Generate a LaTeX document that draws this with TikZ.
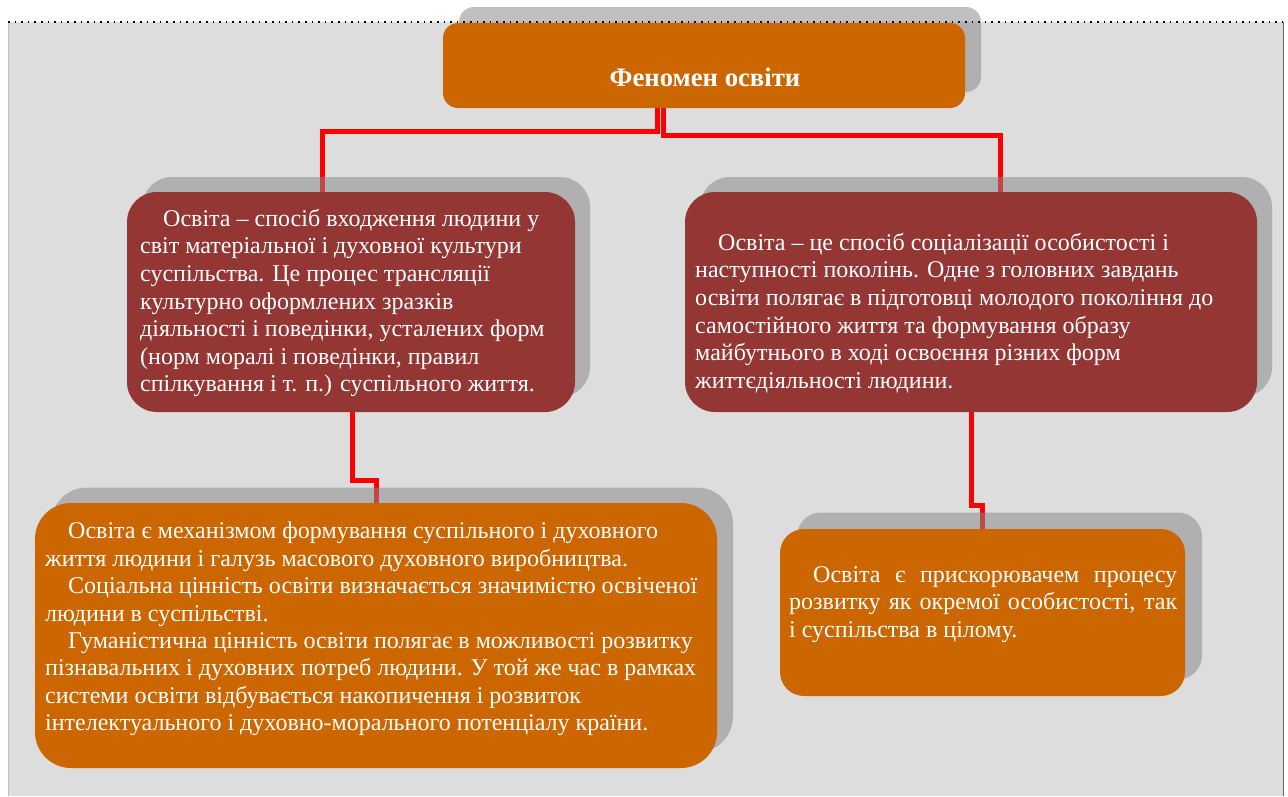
\documentclass[tikz,border=0pt]{standalone}
\usepackage{fontspec}
\setmainfont{Liberation Serif}
\definecolor{orng}{HTML}{CC6600}
\definecolor{dred}{HTML}{943634}
\definecolor{bgg}{HTML}{DDDDDD}
\definecolor{shd}{HTML}{888888}
\pgfdeclarelayer{back}
\pgfdeclarelayer{links}
\pgfdeclarelayer{shadows}
\pgfsetlayers{back,links,shadows,main}
\begin{document}
\begin{tikzpicture}[x=1pt,y=-1pt,
  box/.style={draw=none, inner sep=0pt, minimum width=#1},
  shadowbox/.style={fill=shd, fill opacity=0.53, draw=none, inner sep=0pt},
  link/.style={draw=red, line width=5pt},
  txt/.style={text=white, inner sep=0pt, anchor=north west, align=left, font=\fontsize{24}{27.6}\selectfont},
]
\useasboundingbox (0,0) rectangle (1288,796);
\begin{pgfonlayer}{back}
\fill[bgg] (8,22) rectangle (1283,796);
\draw[line width=1pt, color=black!25] (8.5,22) -- (8.5,796);
\draw[line width=1.2pt, color=black!60] (1283.5,22) -- (1283.5,796);
\end{pgfonlayer}

% boxes
\node[box=522pt, minimum height=85pt, rounded corners=15pt, fill=orng] (top) at (704,65.5) {};
\node[box=448pt, minimum height=220pt, rounded corners=30pt, fill=dred] (lm) at (351,302) {};
\node[box=572pt, minimum height=220pt, rounded corners=30pt, fill=dred] (rm) at (971,302) {};
\node[box=682pt, minimum height=265pt, rounded corners=36pt, fill=orng] (bl) at (376,635.5) {};
\node[box=405pt, minimum height=167pt, rounded corners=24pt, fill=orng] (br) at (982.5,612.5) {};

% shadows
\begin{pgfonlayer}{shadows}
\node[shadowbox, minimum width=522pt, minimum height=85pt, rounded corners=15pt] (tops) at (720,49.5) {};
\node[shadowbox, minimum width=448pt, minimum height=220pt, rounded corners=30pt] (lms) at (366,287) {};
\node[shadowbox, minimum width=572pt, minimum height=220pt, rounded corners=30pt] (rms) at (986,287) {};
\node[shadowbox, minimum width=682pt, minimum height=265pt, rounded corners=36pt] (bls) at (392,620) {};
\node[shadowbox, minimum width=405pt, minimum height=167pt, rounded corners=24pt] (brs) at (999.5,596) {};
\end{pgfonlayer}

% connectors
\begin{pgfonlayer}{links}
\draw[link] ([xshift=-47pt]top.south) -- ++(0,23) -| ([xshift=-29pt]lm.north);
\draw[link] ([xshift=-41pt]top.south) -- ++(0,27) -| ([xshift=29pt]rm.north);
\draw[link] ([xshift=1pt]lm.south) -- ++(0,68) -| (bl.north);
\draw[link] (rm.south) -- ++(0,93) -| (br.north);
\end{pgfonlayer}

% dotted top line
\draw[line width=1.6pt, dash pattern=on 1.6pt off 5pt] (8,22) -- (1283,22);

% texts
\node[text=white, inner sep=0pt, anchor=base, font=\bfseries\fontsize{26.7}{30}\selectfont] (title) at (705,86) {Феномен освіти};

\node[txt] (lmt) at (140,209) {\hspace*{23pt}Освіта – спосіб входження людини у\\
світ матеріальної і духовної культури\\
суспільства. Це процес трансляції\\
культурно оформлених зразків\\
діяльності і поведінки, усталених форм\\
(норм моралі і поведінки, правил\\
спілкування і т. п.) суспільного життя.};

\node[txt] (rmt) at (695,233) {\hspace*{23pt}Освіта – це спосіб соціалізації особистості і\\
наступності поколінь. Одне з головних завдань\\
освіти полягає в підготовці молодого покоління до\\
самостійного життя та формування образу\\
майбутнього в ході освоєння різних форм\\
життєдіяльності людини.};

\node[txt, font=\fontsize{24}{27.4}\selectfont] (blt) at (45,522) {\hspace*{23pt}Освіта є механізмом формування суспільного і духовного\\
життя людини і галузь масового духовного виробництва.\\
\hspace*{23pt}Соціальна цінність освіти визначається значимістю освіченої\\
людини в суспільстві.\\
\hspace*{23pt}Гуманістична цінність освіти полягає в можливості розвитку\\
пізнавальних і духовних потреб людини. У той же час в рамках\\
системи освіти відбувається накопичення і розвиток\\
інтелектуального і духовно-морального потенціалу країни.};

\node[txt, font=\fontsize{24}{27.5}\selectfont] (brt) at (789,566) {\makebox[388pt][s]{\hspace*{24pt}Освіта є прискорювачем процесу}\\
\makebox[388pt][s]{розвитку як окремої особистості, так}\\
і суспільства в цілому.};
\end{tikzpicture}
\end{document}
